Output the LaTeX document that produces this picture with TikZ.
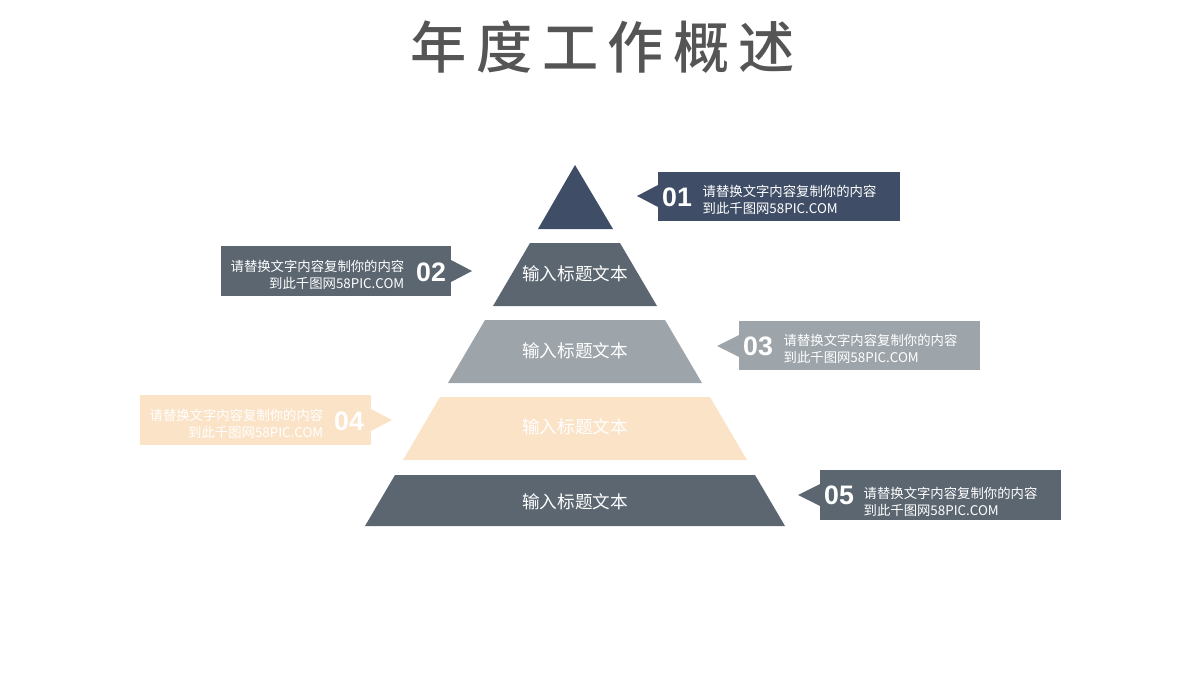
\documentclass[tikz,border=0pt]{standalone}
\usepackage{fontspec}
\newfontfamily\cjk{Noto Sans CJK SC}
\newfontfamily\cjkb{Noto Sans CJK SC Medium}
\setmainfont{Liberation Sans}
\definecolor{navy}{HTML}{3F4E66}
\definecolor{slate}{HTML}{5B6670}
\definecolor{greyl}{HTML}{9EA5AA}
\definecolor{peach}{HTML}{FBE3C8}
\definecolor{ttl}{HTML}{555555}
\begin{document}
\begin{tikzpicture}[x=0.025cm,y=-0.025cm,
  lbl/.style={text=white,font=\cjk\fontsize{12.5}{12.5}\selectfont},
  num/.style={text=white,font=\bfseries\fontsize{19}{19}\selectfont},
  info/.style={text=white,font=\cjk\fontsize{9.5}{12}\selectfont,align=left,inner sep=1pt}]
\useasboundingbox (0,0) rectangle (1200,675);
\node[font=\cjkb\fontsize{40}{40}\selectfont,text=ttl] (title) at (603,47) {年\,度\,工\,作\,概\,述};
% pyramid
\fill[navy] (575,165) -- (613,229) -- (538,229) -- cycle;
\coordinate (apex) at (575,165);
\fill[slate] (530,243) -- (620,243) -- (657,306) -- (493,306) -- cycle;
\node[lbl] (l2) at (575,274) {输入标题文本};
\fill[greyl] (485,320) -- (665,320) -- (702,383) -- (448,383) -- cycle;
\node[lbl] (l3) at (575,351) {输入标题文本};
\fill[peach] (440,397) -- (710,397) -- (747,460) -- (403,460) -- cycle;
\node[lbl] (l4) at (575,427) {输入标题文本};
\fill[slate] (395,475) -- (755,475) -- (785,526) -- (365,526) -- cycle;
\node[lbl] (l5) at (575,502) {输入标题文本};
% callouts
\fill[navy] (658,172) rectangle (900,221);
\fill[navy] (658,185) -- (637,196) -- (658,207) -- cycle;
\node[num] (n1) at (677,197) {01};
\node[info,anchor=west] (t1) at (701,200) {请替换文字内容复制你的内容\\到此千图网58PIC.COM};
\fill[slate] (221,246) rectangle (451,296);
\fill[slate] (451,260) -- (472,271) -- (451,282) -- cycle;
\node[num] (n2) at (431,272) {02};
\node[info,anchor=east,align=right] (t2) at (406,275) {请替换文字内容复制你的内容\\到此千图网58PIC.COM};
\fill[greyl] (739,321) rectangle (980,370);
\fill[greyl] (739,335) -- (717,346) -- (739,357) -- cycle;
\node[num] (n3) at (758,346) {03};
\node[info,anchor=west] (t3) at (782,349) {请替换文字内容复制你的内容\\到此千图网58PIC.COM};
\fill[peach] (140,395) rectangle (371,445);
\fill[peach] (371,409) -- (392,420) -- (371,431) -- cycle;
\node[num] (n4) at (349,421) {04};
\node[info,anchor=east,align=right] (t4) at (325,424) {请替换文字内容复制你的内容\\到此千图网58PIC.COM};
\fill[slate] (820,470) rectangle (1061,520);
\fill[slate] (820,484) -- (798,495) -- (820,506) -- cycle;
\node[num] (n5) at (839,495) {05};
\node[info,anchor=west] (t5) at (862,502) {请替换文字内容复制你的内容\\到此千图网58PIC.COM};
\end{tikzpicture}
\end{document}
